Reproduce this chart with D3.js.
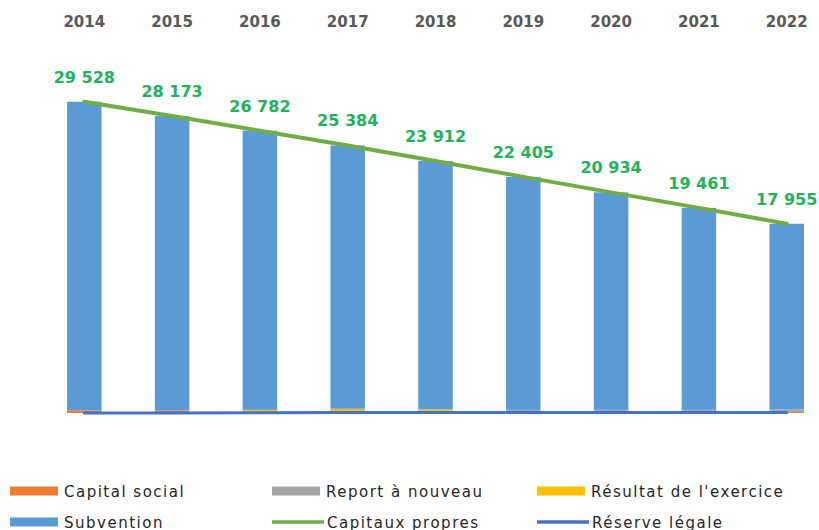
<!DOCTYPE html>
<html>
<head>
<meta charset="utf-8">
<script src="https://cdn.jsdelivr.net/npm/d3@7"></script>
<style>
  body { margin: 0; background: #fff; }
  svg { display: block; }
  .yearLabel { font-family: "DejaVu Sans", sans-serif; font-weight: bold; font-size: 15px; fill: #595959; }
  .valueLabel { font-family: "DejaVu Sans", sans-serif; font-weight: bold; font-size: 16px; fill: #22b35a; }
  .legendText { font-family: "DejaVu Sans", sans-serif; font-size: 15px; fill: #262626; letter-spacing: 1.5px; }
</style>
</head>
<body>
<script>
//wrapping everything in self executing anonymous function to move to local scope
(function(){
//chart data
var years = ["2014", "2015", "2016", "2017", "2018", "2019", "2020", "2021", "2022"];
var capitalSocial = [250, 250, 100, 100, 100, 100, 100, 100, 100];
var reportANouveau = [0, 0, 0, 0, 0, 200, 200, 200, 250];
var resultatExercice = [0, 0, 200, 300, 250, 0, 0, 0, 0];
var subvention = [29278, 27923, 26482, 24984, 23562, 22105, 20634, 19161, 17605];
var capitauxPropres = [29528, 28173, 26782, 25384, 23912, 22405, 20934, 19461, 17955];
var reserveLegale = [0, 10, 30, 40, 40, 40, 40, 40, 40];

//series setup (stack order bottom to top)
var barSeries = [
    {name: "Capital social", values: capitalSocial, color: "#ED7D31"},
    {name: "Report à nouveau", values: reportANouveau, color: "#A5A5A5"},
    {name: "Résultat de l'exercice", values: resultatExercice, color: "#FFC000"},
    {name: "Subvention", values: subvention, color: "#5B9BD5"}
];
var lineSeries = [
    {name: "Capitaux propres", values: capitauxPropres, color: "#70AD47", width: 4},
    {name: "Réserve légale", values: reserveLegale, color: "#4472C4", width: 3}
];

var width = 819,
    height = 530;

var svg = d3.select("body")
    .append("svg")
    .attr("width", width)
    .attr("height", height);

//x scale for the years
var x = d3.scaleBand()
    .domain(years)
    .range([40.4, 830.6])
    .paddingInner(0.607)
    .paddingOuter(0.3035);

//y scale
var y = d3.scaleLinear()
    .domain([0, 30000])
    .range([413, 96.8]);

//build stacked table
var table = years.map(function(yr, i){
    var row = {year: yr};
    barSeries.forEach(function(s){ row[s.name] = s.values[i]; });
    return row;
});
var stack = d3.stack().keys(barSeries.map(function(s){ return s.name; }));
var stacked = stack(table);

//draw bars
svg.selectAll(".layer")
    .data(stacked)
    .enter()
    .append("g")
    .attr("class", "layer")
    .attr("fill", function(d, i){ return barSeries[i].color; })
    .selectAll("rect")
    .data(function(d){ return d; })
    .enter()
    .append("rect")
    .attr("x", function(d){ return x(d.data.year); })
    .attr("width", x.bandwidth())
    .attr("y", function(d){ return y(d[1]); })
    .attr("height", function(d){ return Math.max(0, y(d[0]) - y(d[1])); });

//draw lines (Réserve légale first so Capitaux propres sits on top)
var line = d3.line()
    .x(function(d, i){ return x(years[i]) + x.bandwidth() / 2; })
    .y(function(d){ return y(d); });

lineSeries.slice().reverse().forEach(function(s){
    svg.append("path")
        .datum(s.values)
        .attr("fill", "none")
        .attr("stroke", s.color)
        .attr("stroke-width", s.width)
        .attr("stroke-linecap", "round")
        .attr("d", line);
});

//value labels for Capitaux propres
var fmt = function(v){ return d3.format(",")(v).replace(/,/g, " "); };
svg.selectAll(".valueLabel")
    .data(capitauxPropres)
    .enter()
    .append("text")
    .attr("class", "valueLabel")
    .attr("text-anchor", "middle")
    .attr("x", function(d, i){ return x(years[i]) + x.bandwidth() / 2; })
    .attr("y", function(d){ return y(d) - 19; })
    .text(fmt);

//year axis on top
var xAxis = d3.axisTop(x)
    .tickSize(0)
    .tickPadding(4);
var axis = svg.append("g")
    .attr("transform", "translate(0,31)")
    .call(xAxis);
axis.select(".domain").remove();
axis.selectAll("text")
    .attr("class", "yearLabel")
    .attr("font-size", null)
    .attr("font-family", null);

//legend
var legendItems = [
    {name: "Capital social", color: "#ED7D31", type: "rect"},
    {name: "Report à nouveau", color: "#A5A5A5", type: "rect"},
    {name: "Résultat de l'exercice", color: "#FFC000", type: "rect"},
    {name: "Subvention", color: "#5B9BD5", type: "rect"},
    {name: "Capitaux propres", color: "#70AD47", type: "line"},
    {name: "Réserve légale", color: "#4472C4", type: "line"}
];
var colX = [10, 272, 537],
    rowY = [491, 522];

var legend = svg.selectAll(".legendItem")
    .data(legendItems)
    .enter()
    .append("g")
    .attr("class", "legendItem")
    .attr("transform", function(d, i){
        return "translate(" + colX[i % 3] + "," + rowY[Math.floor(i / 3)] + ")";
    });

legend.each(function(d){
    var g = d3.select(this);
    if (d.type == "rect"){
        g.append("rect")
            .attr("x", 0)
            .attr("y", -4.5)
            .attr("width", 48)
            .attr("height", 9)
            .attr("fill", d.color);
    } else {
        g.append("line")
            .attr("x1", 0)
            .attr("x2", 52)
            .attr("y1", 0)
            .attr("y2", 0)
            .attr("stroke", d.color)
            .attr("stroke-width", 3.5);
    };
    g.append("text")
        .attr("class", "legendText")
        .attr("x", d.type == "rect" ? 54 : 55)
        .attr("y", 6)
        .text(d.name);
});

})();
</script>
</body>
</html>
